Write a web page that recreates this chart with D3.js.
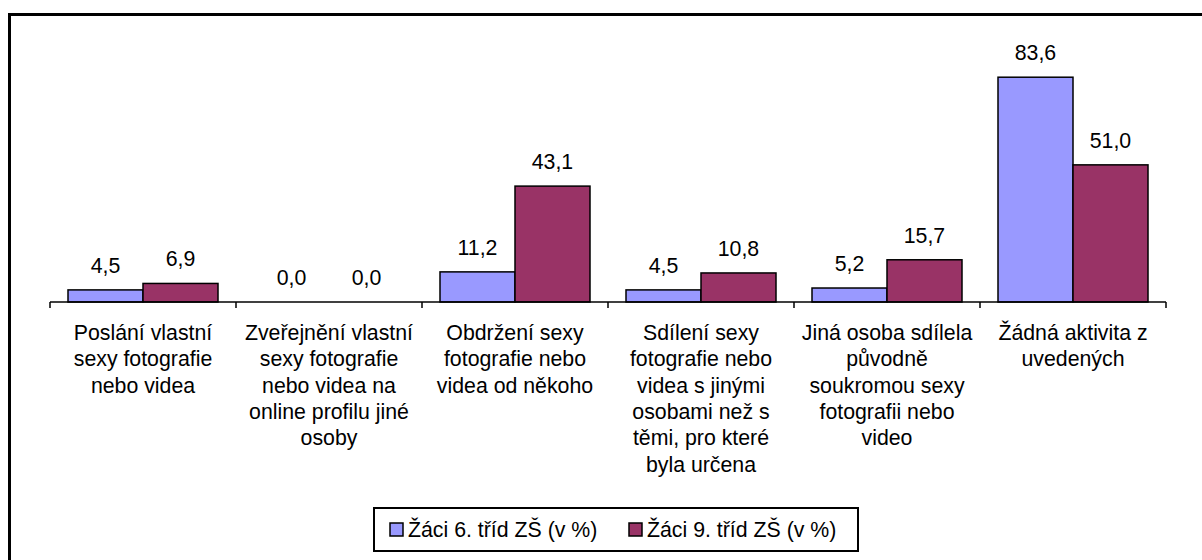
<!DOCTYPE html>
<html>
<head>
<meta charset="utf-8">
<script src="https://cdn.jsdelivr.net/npm/d3@7"></script>
<style>
html,body{margin:0;padding:0;background:#fff;}
svg{display:block;font-family:"Liberation Sans",Arial,sans-serif;}
</style>
</head>
<body>
<svg id="chart" width="1202" height="560"></svg>
<script>
const categories = [
  ["Poslání vlastní","sexy fotografie","nebo videa"],
  ["Zveřejnění vlastní","sexy fotografie","nebo videa na","online profilu jiné","osoby"],
  ["Obdržení sexy","fotografie nebo","videa od někoho"],
  ["Sdílení sexy","fotografie nebo","videa s jinými","osobami než s","těmi, pro které","byla určena"],
  ["Jiná osoba sdílela","původně","soukromou sexy","fotografii nebo","video"],
  ["Žádná aktivita z","uvedených"]
];
const seriesNames = ["Žáci 6. tříd ZŠ (v %)", "Žáci 9. tříd ZŠ (v %)"];
const grade6 = [4.5, 0.0, 11.2, 4.5, 5.2, 83.6];
const grade9 = [6.9, 0.0, 43.1, 10.8, 15.7, 51.0];
const colors = ["#9999FF", "#993366"];

const FS = 21.3;
const svg = d3.select("#chart");
const fmt = v => d3.format(".1f")(v).replace(".", ",");

// outer frame
svg.append("rect").attr("x", 9.5).attr("y", 14.5).attr("width", 1300).attr("height", 700)
  .attr("fill", "#fff").attr("stroke", "#000").attr("stroke-width", 3);

const idx = d3.range(categories.length);
const x = d3.scaleBand().domain(idx).range([50, 1166]).padding(0);
const xs = d3.scaleBand().domain([0, 1]).range([0, x.bandwidth()]).paddingInner(0).paddingOuter(0.24);
const y = d3.scaleLinear().domain([0, 90]).range([302, 60]);

const series = [grade6, grade9];
const g = svg.append("g");
series.forEach((vals, s) => {
  g.selectAll(null).data(idx.filter(i => vals[i] > 0)).join("rect")
    .attr("x", i => x(i) + xs(s))
    .attr("y", i => y(vals[i]))
    .attr("width", xs.bandwidth())
    .attr("height", i => y(0) - y(vals[i]))
    .attr("fill", colors[s])
    .attr("stroke", "#000").attr("stroke-width", 1.5);
  g.selectAll(null).data(idx).join("text")
    .attr("x", i => x(i) + xs(s) + xs.bandwidth() / 2)
    .attr("y", i => y(vals[i]) - 17)
    .attr("text-anchor", "middle")
    .attr("font-size", FS)
    .attr("fill", "#000")
    .text(i => fmt(vals[i]));
});

// x axis
const axisG = svg.append("g");
axisG.append("line").attr("x1", x.range()[0]).attr("x2", x.range()[1])
  .attr("y1", y(0)).attr("y2", y(0)).attr("stroke", "#000").attr("stroke-width", 1.5);
const bounds = idx.map(i => x(i)).concat([x.range()[1]]);
axisG.selectAll(null).data(bounds).join("line")
  .attr("x1", d => d).attr("x2", d => d)
  .attr("y1", y(0)).attr("y2", y(0) + 6)
  .attr("stroke", "#000").attr("stroke-width", 1.5);

// category labels
const lab = svg.append("g");
idx.forEach(i => {
  const t = lab.append("text")
    .attr("text-anchor", "middle")
    .attr("font-size", FS)
    .attr("fill", "#000");
  categories[i].forEach((line, k) => {
    t.append("tspan").attr("x", x(i) + x.bandwidth() / 2)
      .attr("y", 340 + k * 26.3).text(line);
  });
});

// legend
const leg = svg.append("g");
leg.append("rect").attr("x", 374).attr("y", 508).attr("width", 484).attr("height", 43)
  .attr("fill", "#fff").attr("stroke", "#000").attr("stroke-width", 2);
const legX = [389, 628];
seriesNames.forEach((n, s) => {
  leg.append("rect").attr("x", legX[s] + 1).attr("y", 523).attr("width", 13).attr("height", 13)
    .attr("fill", colors[s]).attr("stroke", "#000").attr("stroke-width", 1.5);
  leg.append("text").attr("x", legX[s] + 19).attr("y", 537)
    .attr("font-size", FS).attr("fill", "#000").text(n);
});
</script>
</body>
</html>
